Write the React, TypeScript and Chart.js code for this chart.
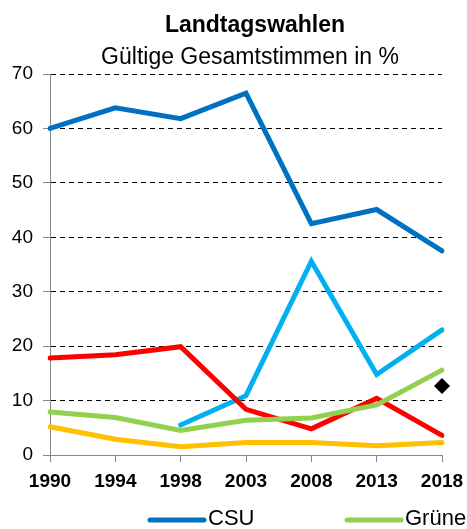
import React, { useEffect, useRef } from "react";
import { Chart, registerables } from "chart.js";

Chart.register(...registerables);

const years = ["1990", "1994", "1998", "2003", "2008", "2013", "2018"];
const csu = [60.0, 63.8, 61.8, 66.5, 42.5, 45.1, 37.5];
const freieWaehler = [null, null, 5.5, 10.9, 35.6, 14.8, 23.0];
const spd = [17.8, 18.4, 19.9, 8.4, 4.8, 10.4, 3.6];
const gruene = [7.9, 6.9, 4.5, 6.4, 6.8, 9.2, 15.6];
const fdp = [5.2, 2.9, 1.5, 2.3, 2.3, 1.7, 2.3];
const marker = [null, null, null, null, null, null, 12.7];
const yTicks = [0, 10, 20, 30, 40, 50, 60, 70];

const titleText = "Landtagswahlen";
const subtitleText = "Gültige Gesamtstimmen in %";
const legendItems = [
  { label: "CSU", color: "#0070C0" },
  { label: "Grüne", color: "#92D050" },
];

const FONT = "'Liberation Sans', Arial, sans-serif";

const overlayPlugin = {
  id: "overlay",
  afterDraw(chart: any) {
    const ctx = chart.ctx;
    ctx.save();
    ctx.fillStyle = "#000";
    ctx.textAlign = "center";
    ctx.textBaseline = "alphabetic";
    ctx.font = `bold 23px ${FONT}`;
    ctx.fillText(titleText, 255, 32);
    ctx.font = `23px ${FONT}`;
    ctx.fillText(subtitleText, 250, 64);

    // legend
    const starts = [150, 347];
    ctx.font = `22px ${FONT}`;
    ctx.textAlign = "left";
    ctx.textBaseline = "middle";
    legendItems.forEach((item, i) => {
      const x0 = starts[i];
      ctx.strokeStyle = item.color;
      ctx.lineWidth = 5;
      ctx.lineCap = "round";
      ctx.beginPath();
      ctx.moveTo(x0, 520);
      ctx.lineTo(x0 + 54, 520);
      ctx.stroke();
      ctx.fillStyle = "#000";
      ctx.fillText(item.label, x0 + 58, 519);
    });
    ctx.restore();
  },
};

export default function App() {
  const ref = useRef<HTMLCanvasElement | null>(null);

  useEffect(() => {
    document.body.style.margin = "0";
    const lineDs = (label: string, data: (number | null)[], color: string) => ({
      label,
      data,
      borderColor: color,
      backgroundColor: color,
      borderWidth: 5,
      pointRadius: 0,
      tension: 0,
      borderCapStyle: "round" as const,
      borderJoinStyle: "miter" as const,
      spanGaps: false,
    });
    const chart = new Chart(ref.current!, {
      type: "line",
      data: {
        labels: years,
        datasets: [
          lineDs("FDP", fdp, "#FFC000"),
          lineDs("Grüne", gruene, "#92D050"),
          lineDs("SPD", spd, "#FF0000"),
          lineDs("Freie Wähler", freieWaehler, "#00B0F0"),
          lineDs("CSU", csu, "#0070C0"),
          {
            label: "AfD",
            data: marker,
            borderColor: "#000",
            backgroundColor: "#000",
            showLine: false,
            pointStyle: "rectRot",
            pointRadius: 8,
            pointHoverRadius: 8,
            borderWidth: 0,
          } as any,
        ],
      },
      options: {
        animation: false,
        responsive: true,
        maintainAspectRatio: false,
        layout: { padding: { top: 74, right: 25, left: 0, bottom: 34 } },
        plugins: {
          legend: { display: false },
          title: { display: false },
          tooltip: { enabled: false },
        },
        scales: {
          x: {
            type: "category",
            offset: false,
            afterFit(scale: any) {
              scale.height = 40;
              scale.paddingLeft = 0;
              scale.paddingRight = 0;
            },
            grid: {
              drawOnChartArea: false,
              drawTicks: true,
              tickLength: 7,
              tickColor: "#888",
            },
            border: { color: "#888", width: 1 },
            ticks: {
              color: "#000",
              font: { family: FONT, size: 19, weight: "bold" },
              padding: 8,
              maxRotation: 0,
              autoSkip: false,
            },
          },
          y: {
            min: 0,
            max: 70,
            afterFit(scale: any) {
              scale.width = 50;
            },
            afterBuildTicks(scale: any) {
              scale.ticks = yTicks.map((v) => ({ value: v }));
            },
            grid: {
              color: "#000",
              lineWidth: 1,
              drawTicks: true,
              tickLength: 7,
              tickColor: "#888",
            },
            border: { color: "#888", width: 1, dash: [5, 4] },
            ticks: {
              color: "#000",
              font: { family: FONT, size: 19 },
              padding: 10,
            },
          },
        },
      },
      plugins: [overlayPlugin],
    });
    return () => chart.destroy();
  }, []);

  return (
    <div style={{ position: "absolute", left: 0, top: 0, width: 467, height: 529 }}>
      <canvas ref={ref} />
    </div>
  );
}
